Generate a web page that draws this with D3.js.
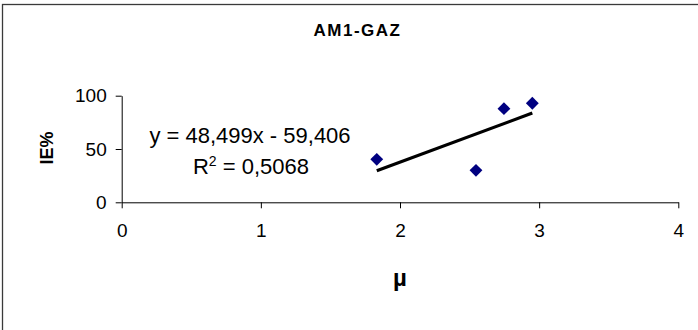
<!DOCTYPE html>
<html>
<head>
<meta charset="utf-8">
<script src="https://cdn.jsdelivr.net/npm/d3@7"></script>
<style>
  html, body { margin: 0; padding: 0; background: #fff; }
  svg { display: block; font-family: "Liberation Sans", Arial, sans-serif; }
</style>
</head>
<body>
<svg id="chart" width="698" height="330"></svg>
<script>
// Measurements: mobility (µ) vs. inhibition efficiency (IE%)
const muValues = [1.833, 2.546, 2.747, 2.951];
const ieValues = [40.3, 30.0, 87.8, 92.9];

// Linear trend line reported on the chart
const slope = 48.499;
const intercept = -59.406;
const rSquared = "0,5068";

const xTicks = [0, 1, 2, 3, 4];
const yTicks = [0, 50, 100];

const chartTitle = "AM1-GAZ";
const xTitle = "µ";
const yTitle = "IE%";

const svg = d3.select("#chart");

// outer frame
svg.append("rect")
  .attr("x", 2.5).attr("y", 4.5)
  .attr("width", 720).attr("height", 360)
  .attr("fill", "none")
  .attr("stroke", "#3a3a3a")
  .attr("stroke-width", 1.3);

const x = d3.scaleLinear().domain([0, 4]).range([121.7, 678.3]);
const y = d3.scaleLinear().domain([0, 100]).range([202.3, 95.7]);

// x axis
const xAxis = svg.append("g")
  .attr("transform", `translate(0,${y(0)})`)
  .call(d3.axisBottom(x).tickValues(xTicks).tickFormat(d3.format("d")).tickSize(6).tickSizeOuter(0).tickPadding(15));

// y axis
const yAxis = svg.append("g")
  .attr("transform", `translate(${x(0)},0)`)
  .call(d3.axisLeft(y).tickValues(yTicks).tickFormat(d3.format("d")).tickSize(6).tickSizeOuter(0).tickPadding(9));

[xAxis, yAxis].forEach(g => {
  g.select(".domain").attr("stroke", "#000").attr("stroke-width", 1);
  g.selectAll(".tick line").attr("stroke", "#000").attr("stroke-width", 1);
  g.selectAll(".tick text")
    .attr("fill", "#000")
    .style("font-size", "19px")
    .style("font-family", "'Liberation Sans', Arial, sans-serif");
});

// trend line over the data range
const xMin = d3.min(muValues), xMax = d3.max(muValues);
svg.append("line")
  .attr("x1", x(xMin)).attr("y1", y(slope * xMin + intercept))
  .attr("x2", x(xMax)).attr("y2", y(slope * xMax + intercept))
  .attr("stroke", "#000")
  .attr("stroke-width", 3.2);

// diamond markers
const diamond = d3.symbol().type(d3.symbolDiamond2).size(105);
svg.append("g")
  .selectAll("path")
  .data(muValues.map((m, i) => [m, ieValues[i]]))
  .join("path")
  .attr("d", diamond)
  .attr("transform", d => `translate(${x(d[0])},${y(d[1])})`)
  .attr("fill", "#000080");

// equation and R²
svg.append("text")
  .attr("x", 250).attr("y", 143)
  .attr("text-anchor", "middle")
  .style("font-size", "22px")
  .attr("fill", "#000")
  .text(`y = ${String(slope).replace(".", ",")}x - ${String(-intercept).replace(".", ",")}`);

const r2 = svg.append("text")
  .attr("x", 251).attr("y", 174)
  .attr("text-anchor", "middle")
  .style("font-size", "22px")
  .attr("fill", "#000");
r2.append("tspan").text("R");
r2.append("tspan").attr("dy", -8).style("font-size", "14px").text("2");
r2.append("tspan").attr("dy", 8).text(` = ${rSquared}`);

// titles
svg.append("text")
  .attr("x", 357.5).attr("y", 36)
  .attr("text-anchor", "middle")
  .style("font-size", "17px")
  .style("font-weight", "bold")
  .style("letter-spacing", "1.5px")
  .attr("fill", "#000")
  .text(chartTitle);

svg.append("text")
  .attr("x", 400).attr("y", 286)
  .attr("text-anchor", "middle")
  .style("font-size", "24px")
  .style("font-weight", "bold")
  .attr("fill", "#000")
  .text(xTitle);

svg.append("text")
  .attr("transform", "translate(53,148) rotate(-90)")
  .attr("text-anchor", "middle")
  .style("font-size", "18px")
  .style("font-weight", "bold")
  .attr("fill", "#000")
  .text(yTitle);
</script>
</body>
</html>
